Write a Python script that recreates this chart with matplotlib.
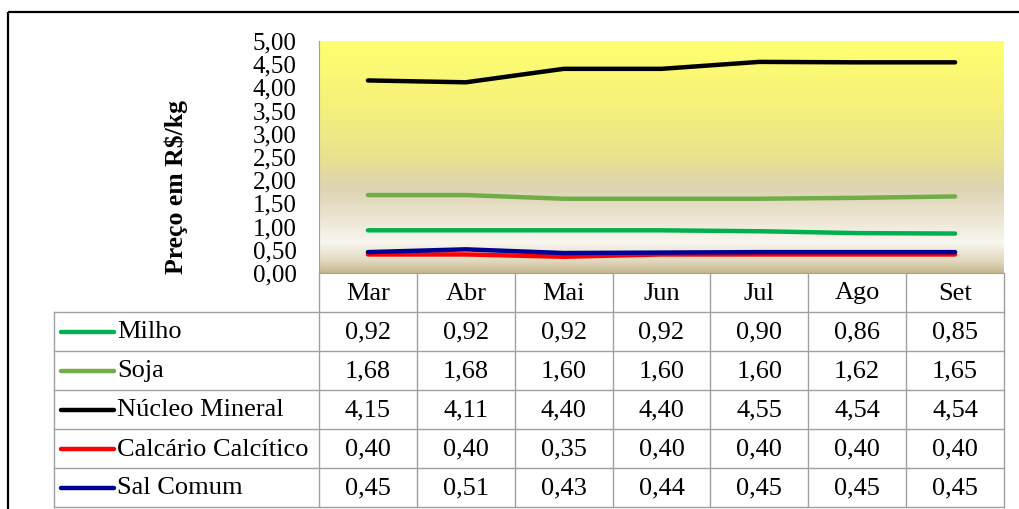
import matplotlib
matplotlib.use('Agg')
import matplotlib.pyplot as plt
from matplotlib.colors import LinearSegmentedColormap
from matplotlib.patches import Rectangle
import numpy as np

plt.rcParams['font.family'] = ['Liberation Serif', 'DejaVu Serif']

meses = ['Mar', 'Abr', 'Mai', 'Jun', 'Jul', 'Ago', 'Set']
milho = [0.92, 0.92, 0.92, 0.92, 0.90, 0.86, 0.85]
soja = [1.68, 1.68, 1.60, 1.60, 1.60, 1.62, 1.65]
nucleo = [4.15, 4.11, 4.40, 4.40, 4.55, 4.54, 4.54]
calcario = [0.40, 0.40, 0.35, 0.40, 0.40, 0.40, 0.40]
sal = [0.45, 0.51, 0.43, 0.44, 0.45, 0.45, 0.45]

nomes = ['Milho', 'Soja', 'Núcleo Mineral', 'Calcário Calcítico', 'Sal Comum']
series = [milho, soja, nucleo, calcario, sal]
cores = ['#00B050', '#70AD47', '#000000', '#FF0000', '#000099']
yticks = np.arange(0, 5.01, 0.5)

FS = 19


def br(v):
    return f'{v:.2f}'.replace('.', ',')


W, H = 1019, 509
fig = plt.figure(figsize=(W / 100, H / 100), dpi=100)

# plot area and table geometry in pixels
x0, x1, y_top, y_bot = 319, 1004, 41, 273
row_h = 39
ax = fig.add_axes([x0 / W, 1 - y_bot / H, (x1 - x0) / W, (y_bot - y_top) / H])

# gradient fill behind the lines
grad = LinearSegmentedColormap.from_list('fundo', [
    (0.00, '#C6B78E'),
    (0.05, '#E2D8BD'),
    (0.13, '#F8F6EF'),
    (0.25, '#EAE3CE'),
    (0.37, '#DDD3B2'),
    (0.50, '#E9E28F'),
    (0.72, '#F6F17A'),
    (1.00, '#FFFF70'),
])
ax.imshow(np.linspace(0, 1, 256).reshape(-1, 1), cmap=grad, origin='lower',
          extent=(-0.5, 6.5, 0, 5), aspect='auto', zorder=0)

x = np.arange(len(meses))
for s, c in zip(series, cores):
    ax.plot(x, s, color=c, lw=3.2, solid_capstyle='round', zorder=2)

ax.set_xlim(-0.5, 6.5)
ax.set_ylim(0, 5)
ax.set_xticks([])
ax.set_yticks(yticks)
ax.set_yticklabels([br(v) for v in yticks], fontsize=18)
ax.tick_params(axis='y', length=0, pad=16)
for side in ['top', 'right']:
    ax.spines[side].set_visible(False)
ax.spines['left'].set_color('#A0A0A0')
ax.spines['bottom'].set_color('#A0A0A0')

fig.text(176 / W, 1 - 187 / H, 'Preço em R$/kg', rotation=90, fontsize=18.5,
         fontweight='bold', ha='center', va='center')

# data table drawn in pixel coordinates
tb = fig.add_axes([0, 0, 1, 1], zorder=-1)
tb.set_xlim(0, W)
tb.set_ylim(H, 0)
tb.axis('off')

gc = '#A0A0A0'
col_w = (x1 - x0) / len(meses)
leg_x = 54
rows_top = y_bot + row_h
rows_bot = rows_top + row_h * len(nomes)

for i in range(len(meses) + 1):
    xe = x0 + i * col_w
    tb.plot([xe, xe], [y_bot, rows_bot], color=gc, lw=1)
tb.plot([leg_x, leg_x], [rows_top, rows_bot], color=gc, lw=1)
for k in range(len(nomes) + 1):
    ye = rows_top + k * row_h
    tb.plot([leg_x, x1], [ye, ye], color=gc, lw=1)

for i, m in enumerate(meses):
    tb.text(x0 + (i + 0.5) * col_w, y_bot + row_h / 2 + 1, m, fontsize=FS,
            ha='center', va='center')

for k, (nome, s, c) in enumerate(zip(nomes, series, cores)):
    yc = rows_top + (k + 0.5) * row_h
    tb.plot([61, 114], [yc, yc], color=c, lw=3.2, solid_capstyle='round')
    tb.text(117, yc + 1, nome, fontsize=FS, ha='left', va='center')
    for i, v in enumerate(s):
        tb.text(x0 + (i + 0.5) * col_w, yc + 1, br(v), fontsize=FS,
                ha='center', va='center')

tb.add_patch(Rectangle((8, 12), 1040, 520, fill=False, ec='black', lw=1.6,
                       clip_on=False))

fig.savefig('out.png', dpi=100)
